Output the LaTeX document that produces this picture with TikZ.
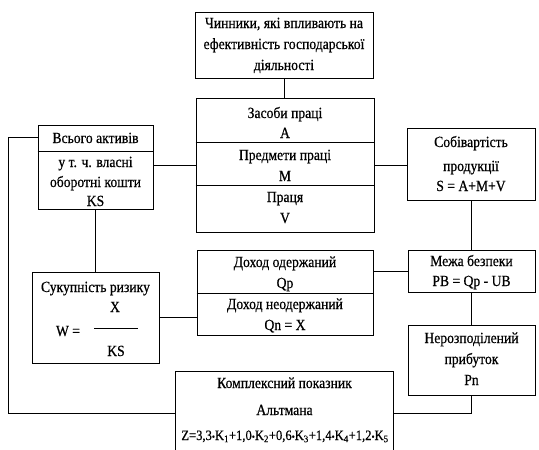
\documentclass[tikz,border=0pt]{standalone}
\usepackage{fontspec}
\setmainfont[FakeStretch=0.88,FakeBold=0.6]{Liberation Serif}
\begin{document}
\begin{tikzpicture}[x=1pt,y=-1pt,
  box/.style={draw, line width=1pt, inner sep=0pt, rectangle},
  txt/.style={anchor=base, inner sep=0pt, font=\fontsize{15.5}{17}\selectfont},
  conn/.style={line width=1pt}]
\useasboundingbox (0,0) rectangle (539,450);
% boxes
\node[box, minimum width=178pt, minimum height=66pt] (top) at (284,45) {};
\node[box, minimum width=178pt, minimum height=134pt] (mid) at (285,165) {};
\node[box, minimum width=115pt, minimum height=84pt] (ka) at (95.5,167) {};
\node[box, minimum width=128pt, minimum height=72pt] (sob) at (471,164) {};
\node[box, minimum width=127pt, minimum height=42pt] (mezha) at (471.5,271) {};
\node[box, minimum width=176pt, minimum height=85pt] (dohid) at (285,292.5) {};
\node[box, minimum width=127pt, minimum height=91pt] (suk) at (95.5,317.5) {};
\node[box, minimum width=127pt, minimum height=70pt] (nerozp) at (471.5,360) {};
\node[inner sep=0pt, minimum width=217pt, minimum height=78pt] (alt) at (284.5,411) {};
\draw[conn] (alt.south west) -- (alt.north west) -- (alt.north east) -- (alt.south east);
% dividers
\draw[conn] (mid.west |- 0,142) -- (mid.east |- 0,142);
\draw[conn] (mid.west |- 0,185) -- (mid.east |- 0,185);
\draw[conn] (ka.west |- 0,151) -- (ka.east |- 0,151);
\draw[conn] (dohid.west |- 0,293) -- (dohid.east |- 0,293);
% texts
\node[txt] (t1) at (284,28) {Чинники, які впливають на};
\node[txt] (t2) at (284,49) {ефективність господарської};
\node[txt] (t3) at (284,70) {діяльності};
\node[txt] (m1) at (285,118) {Засоби праці};
\node[txt] (m2) at (285,138) {A};
\node[txt] (m3) at (285,160) {Предмети праці};
\node[txt] (m4) at (285,181) {M};
\node[txt] (m5) at (285,202) {Праця};
\node[txt] (m6) at (285,223) {V};
\node[txt] (k1) at (95.5,143) {Всього активів};
\node[txt] (k2) at (95.5,167) {у т. ч. власні};
\node[txt] (k3) at (95.5,187) {оборотні кошти};
\node[txt] (k4) at (95.5,206) {KS};
\node[txt] (s1) at (471,147) {Собівартість};
\node[txt] (s2) at (471,171) {продукції};
\node[txt] (s3) at (471,191) {S = A+M+V};
\node[txt] (z1) at (471.5,266) {Межа безпеки};
\node[txt] (z2) at (471.5,286) {PB = Qp - UB};
\node[txt] (d1) at (285,267) {Доход одержаний};
\node[txt] (d2) at (285,288) {Qp};
\node[txt] (d3) at (285,309) {Доход неодержаний};
\node[txt] (d4) at (285,330) {Qn = X};
\node[txt] (r1) at (95.5,292) {Сукупність ризику};
\node[txt] (r2) at (115,312) {X};
\node[txt] (r3) at (68,336) {W =};
\node[txt] (r4) at (116,356) {KS};
\draw[conn] (94,328) -- (138,328);
\node[txt] (n1) at (471.5,343) {Нерозподілений};
\node[txt] (n2) at (471.5,364) {прибуток};
\node[txt] (n3) at (471.5,385) {Pn};
\node[txt] (a1) at (284.5,388) {Комплексний показник};
\node[txt] (a2) at (284.5,415) {Альтмана};
\node[txt, font=\fontsize{14.3}{16}\selectfont] (a3) at (285,440) {Z=3,3{\fontsize{10}{10}\selectfont•}K\textsubscript{1}+1,0{\fontsize{10}{10}\selectfont•}K\textsubscript{2}+0,6{\fontsize{10}{10}\selectfont•}K\textsubscript{3}+1,4{\fontsize{10}{10}\selectfont•}K\textsubscript{4}+1,2{\fontsize{10}{10}\selectfont•}K\textsubscript{5}};
% connectors
\draw[conn] (top.south) -- (top.south |- mid.north);
\draw[conn] (ka.east |- mid.west) -- (mid.west);
\draw[conn] (mid.east) -- (mid.east -| sob.west);
\draw[conn] (sob.south) -- (sob.south |- mezha.north);
\draw[conn] (dohid.east |- mezha.west) -- (mezha.west);
\draw[conn] (suk.east) -- (suk.east -| dohid.west);
\draw[conn] (ka.south) -- (ka.south |- suk.north);
\draw[conn] (mezha.south) -- (mezha.south |- nerozp.north);
\draw[conn] (nerozp.south) |- ([yshift=-2pt]alt.east);
\draw[conn] ([yshift=-13pt]ka.north west) -- ++(-29,0) |- ([yshift=-2pt]alt.west);
\end{tikzpicture}
\end{document}
